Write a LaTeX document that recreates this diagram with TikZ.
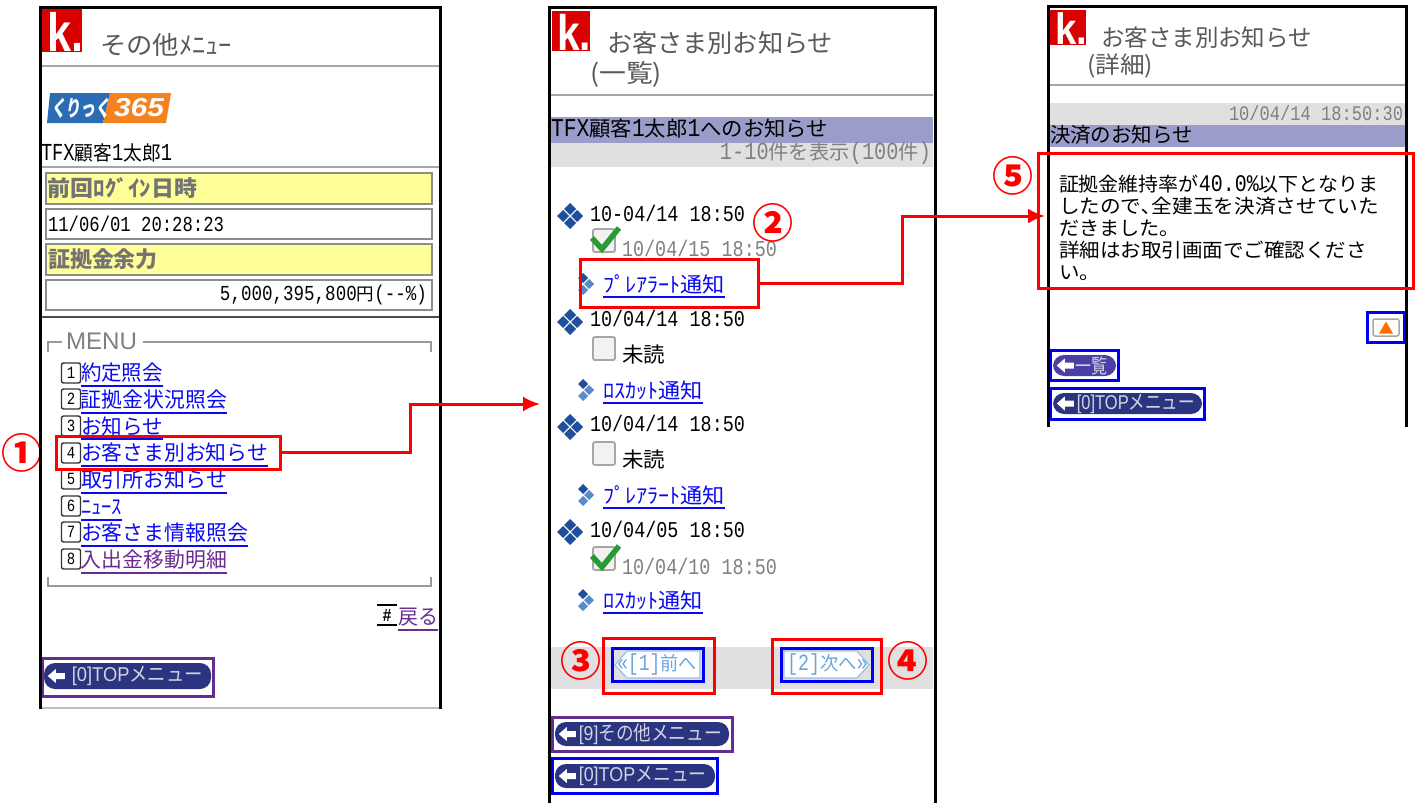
\documentclass[tikz,border=0pt]{standalone}
\usepackage{graphicx}
\usepackage{fontspec}
\usetikzlibrary{arrows.meta,calc,fit}
\setmainfont{Noto Sans CJK JP}
\newfontfamily\mn[Scale=1.22,FakeStretch=0.82]{Liberation Mono}
\newfontfamily\ls{Liberation Sans}
\newfontfamily\lsbi[BoldItalicFont={Liberation Sans Bold Italic}]{Liberation Sans}
\newfontfamily\jpsl[FakeSlant=0.2]{Noto Sans CJK JP}
\newcommand{\fs}[1]{\fontsize{#1pt}{#1pt}\selectfont}
\definecolor{lnkblue}{HTML}{0A0AF0}
\definecolor{lnkpurple}{HTML}{6A2C91}
\definecolor{rd}{HTML}{FF0000}
\definecolor{bbx}{HTML}{0000F0}
\definecolor{pbx}{HTML}{662D91}
\definecolor{navy}{HTML}{2B357F}
\definecolor{lav}{HTML}{9A9CC9}
\definecolor{band}{HTML}{E0E0E0}
\definecolor{dia}{HTML}{1F4E9C}
\definecolor{dial}{HTML}{5B8AC8}
\definecolor{ylw}{HTML}{FFFF99}
\definecolor{pale}{HTML}{6CA6D8}
\definecolor{tickg}{HTML}{2A9A35}
\definecolor{logoblue}{HTML}{2A6DB5}
\definecolor{logoor}{HTML}{F58220}
\definecolor{pillv}{HTML}{4B3FA5}
\tikzset{
  x=1pt,y=-1pt,
  t/.style={anchor=west,inner sep=0pt,outer sep=0pt},
  tr/.style={anchor=east,inner sep=0pt,outer sep=0pt},
  frame/.style={draw=black,line width=3pt},
  rule/.style={draw=black!35,line width=1.5pt},
  redbox/.style={draw=rd,line width=3pt,inner sep=0pt},
  bluebox/.style={draw=bbx,line width=3pt,inner sep=0pt},
  purplebox/.style={draw=pbx,line width=3pt,inner sep=0pt},
  conn/.style={draw=rd,line width=3pt,-{Latex[length=17pt,width=15pt]}},
  numc/.style={text=rd,font=\fs{41}\bfseries,inner sep=0pt},
  yellowcell/.style={fill=ylw,draw=black!45,line width=1.3pt,inner sep=0pt},
  whitecell/.style={fill=white,draw=black!45,line width=1.3pt,inner sep=0pt},
  fsline/.style={draw=black!40,line width=2.5pt},
  keyb/.style={draw=black!80,line width=1.4pt,rounded corners=2pt,minimum width=19pt,minimum height=20pt,inner sep=0pt,font=\mn\fs{14}},
  chk/.style={draw=black!35,fill=black!5,line width=1.8pt,rounded corners=2pt,inner sep=0pt},
  hexa/.style={fill=white,draw=pale!70,line width=1.2pt},
}
% name x1 y1 x2 y2 style [text-free box]
\newcommand{\bx}[6]{\coordinate (#1-a) at (#2,#3);\coordinate (#1-b) at (#4,#5);\node[fit=(#1-a)(#1-b),#6] (#1) {};}
% name x y width style text
\newcommand{\txt}[6]{\node[t,#5] (#1) at (#2,#3) {\resizebox{#4pt}{\height}{#6}};}
\newcommand{\txr}[6]{\node[tr,#5] (#1) at (#2,#3) {\resizebox{#4pt}{\height}{#6}};}
% name x y width colour text
\newcommand{\lnk}[6]{\txt{#1}{#2}{#3}{#4}{text=#5,font=\fs{21}}{#6}\draw[#5,line width=1.4pt] ($(#1.west)+(0,13)$) -- ($(#1.east)+(0,13)$);}
% name x y digit
\newcommand{\keyk}[4]{\node[keyb] (#1) at (#2,#3) {#4};}
% pill: name x1 y1 x2 y2 fill textx textw text
\newcommand{\pill}[9]{\bx{#1}{#2}{#3}{#4}{#5}{fill=#6,rounded corners=11pt,inner sep=0pt}
  \fill[white] ($(#1.west)+(4,0)$) -- ++(8,-7) -- ++(0,4) -- ++(9,0) -- ++(0,6) -- ++(-9,0) -- ++(0,4) -- cycle;
  \node[t,text=white!78!navy,font=\fs{20}] (#1-t) at ($(#1.west)+(#7-#2,0)$) {\resizebox{#8pt}{\height}{#9}};}
% logo: name x1 y1 x2 y2 font size glyph width
\newcommand{\klogo}[7]{\bx{#1}{#2}{#3}{#4}{#5}{fill=red!85!black,inner sep=0pt}
  \node[text=white,font=\ls\bfseries\fs{#6},inner sep=0pt,anchor=south] (#1-k) at ($(#1.south)+(3,-1)$) {\resizebox{#7pt}{\height}{k.}};}
% large diamond icon
\newcommand{\bigdia}[3]{\begin{scope}[shift={(#2,#3)}]
  \foreach \dx/\dy in {0/-7,0/7,-7/0,7/0}{\fill[dia] (\dx-6,\dy) -- (\dx,\dy-6) -- (\dx+6,\dy) -- (\dx,\dy+6) -- cycle;}
  \end{scope}}
\newcommand{\smalldia}[3]{\begin{scope}[shift={(#2,#3)}]
  \foreach \dx/\dy/\c in {-2/-6/dia,-2/6/dial,4/0/dial}{\fill[\c] (\dx-5,\dy) -- (\dx,\dy-5) -- (\dx+5,\dy) -- (\dx,\dy+5) -- cycle;}
  \end{scope}}
\newcommand{\cbox}[3]{\bx{#1}{#2}{#3}{#2+22}{#3+23}{chk}}
\newcommand{\tick}[2]{\draw[draw=tickg,line width=5.5pt] (#1-1,#2-14) -- (#1+9,#2-3) -- (#1+26,#2-24);}
\begin{document}
\begin{tikzpicture}
\path[use as bounding box,fill=white] (0,0) rectangle (1417,803);

%% ---------- panel 1 ----------
\klogo{logoa}{42}{9}{82}{52}{54}{36}
\txt{ta}{100}{45}{132}{text=black!65,font=\fs{25}}{その他ﾒﾆｭｰ}
\draw[rule] (41,66) -- (439,66);
\fill[logoblue] (50,93) -- (110,93) -- (103,123) -- (47,123) -- cycle;
\fill[logoor] (110,93) -- (171,93) -- (166,123) -- (103,123) -- cycle;
\node[t,text=white,font=\jpsl\bfseries\fs{22}] (kur) at (51,108) {\resizebox{60pt}{\height}{くりっく}};
\node[t,text=white,font=\lsbi\bfseries\itshape\fs{26}] (n365) at (114,108) {\resizebox{50pt}{\height}{365}};
\txt{cust}{41}{153}{131}{font=\fs{20}}{{\mn TFX}顧客{\mn 1}太郎{\mn 1}}
\draw[rule] (41,167) -- (439,167);
\bx{ya}{46}{173}{432}{204}{yellowcell}
\bx{wa}{46}{209}{432}{239}{whitecell}
\bx{yb}{46}{244}{432}{275}{yellowcell}
\bx{wb}{46}{280}{432}{310}{whitecell}
\txt{la}{48}{188}{149}{text=black!55,font=\bfseries\fs{22}}{前回ﾛｸﾞｲﾝ日時}
\txt{lb}{48}{224}{176}{font=\mn\fs{17.5}}{11/06/01 20:28:23}
\txt{lc}{48}{259}{110}{text=black!55,font=\bfseries\fs{22}}{証拠金余力}
\txr{ld}{427}{295}{207}{font=\fs{17.5}}{{\mn 5,000,395,800}円{\mn (--\%)}}
\draw[draw=black!70,line width=1.5pt] (41,317) -- (439,317);
\node[t,text=black!50,font=\ls\fs{24}] (menu) at (66,341) {\resizebox{71pt}{\height}{MENU}};
\draw[fsline] (48,352) -- (48,342) -- (62,342);
\draw[fsline] (143,342) -- (431,342) -- (431,352);
\draw[fsline] (48,577) -- (48,586) -- (431,586) -- (431,577);

\keyk{ka}{71}{373}{1}\keyk{kb}{71}{399}{2}\keyk{kc}{71}{426}{3}\keyk{kd}{71}{453}{4}
\keyk{ke}{71}{479}{5}\keyk{kf}{71}{506}{6}\keyk{kg}{71}{532}{7}\keyk{kh}{71}{559}{8}
\lnk{ia}{81}{373}{82}{lnkblue}{約定照会}
\lnk{ib}{81}{400}{146}{lnkblue}{証拠金状況照会}
\begin{scope}
\clip (60,400) rectangle (300,435);
\txt{ic}{81}{426}{82}{text=lnkblue,font=\fs{21}}{お知らせ}
\end{scope}
\draw[lnkblue,line width=1.4pt] ($(ic.west)+(0,13)$) -- ($(ic.east)+(0,13)$);
\lnk{id}{81}{453}{187}{lnkblue}{お客さま別お知らせ}
\lnk{ie}{81}{480}{146}{lnkblue}{取引所お知らせ}
\lnk{if}{81}{507}{41}{lnkblue}{ﾆｭｰｽ}
\lnk{ig}{81}{533}{167}{lnkblue}{お客さま情報照会}
\lnk{ih}{81}{560}{146}{lnkpurple}{入出金移動明細}
\bx{ra}{56}{436}{280}{469}{redbox}
\node[numc] (na) at (22,453) {①};

\node[inner sep=0pt,font=\mn\bfseries\fs{15},minimum width=20pt,minimum height=20pt] (hash) at (387,615) {\#};
\draw[black,line width=1.8pt] (hash.north west) -- (hash.north east);
\draw[black,line width=1.8pt] (hash.south west) -- (hash.south east);
\lnk{back}{398}{617}{40}{lnkpurple}{戻る}

\pill{pa}{44}{663}{211}{689}{navy}{72}{131}{{\ls [0]TOP}メニュー}
\bx{pba}{42}{658}{213}{696}{purplebox}

\draw[draw=black!25,line width=1.2pt] (41,708) -- (439,708);
\draw[frame] (40,709) -- (40,7) -- (440,7) -- (440,709);

%% ---------- panel 2 ----------
\klogo{logob}{552}{11}{590}{51}{50}{34}
\txt{tb}{607}{43}{226}{text=black!65,font=\fs{25}}{お客さま別お知らせ}
\txt{tc}{590}{74}{72}{text=black!65,font=\fs{25}}{(一覧)}
\draw[rule] (551,95) -- (933,95);
\fill[lav] (551,117) rectangle (933,143);
\fill[band] (551,143) rectangle (933,167);
\txt{te}{551}{129}{277}{font=\fs{21}}{{\mn TFX}顧客{\mn 1}太郎{\mn 1}へのお知らせ}
\txr{tf}{931}{153}{211}{text=black!50,font=\fs{20}}{{\mn 1-10}件を表示{\mn (100}件{\mn )}}

\bigdia{da}{570}{216}
\bigdia{db}{570}{322}
\bigdia{dc}{570}{427}
\bigdia{dd}{570}{532}
\txt{d1}{590}{213}{155}{font=\mn\fs{18.5}}{10-04/14 18:50}
\txt{d2}{590}{318}{155}{font=\mn\fs{18.5}}{10/04/14 18:50}
\txt{d3}{590}{423}{155}{font=\mn\fs{18.5}}{10/04/14 18:50}
\txt{d4}{590}{529}{155}{font=\mn\fs{18.5}}{10/04/05 18:50}
\cbox{ca}{593}{229}
\cbox{cb}{593}{337}
\cbox{cc}{593}{442}
\cbox{cd}{593}{547}
\tick{593}{252}
\tick{593}{570}
\txt{s1}{622}{248}{155}{text=black!50,font=\mn\fs{18.5}}{10/04/15 18:50}
\txt{s2}{622}{355}{43}{font=\fs{21}}{未読}
\txt{s3}{622}{460}{43}{font=\fs{21}}{未読}
\txt{s4}{622}{566}{155}{text=black!50,font=\mn\fs{18.5}}{10/04/10 18:50}
\smalldia{sa}{585}{284}
\smalldia{sb}{585}{390}
\smalldia{sc}{585}{495}
\smalldia{sd}{585}{600}
\lnk{lka}{603}{284}{122}{lnkblue}{ﾌﾟﾚｱﾗｰﾄ通知}
\lnk{lkb}{603}{390}{100}{lnkblue}{ﾛｽｶｯﾄ通知}
\lnk{lkc}{603}{495}{122}{lnkblue}{ﾌﾟﾚｱﾗｰﾄ通知}
\lnk{lkd}{603}{600}{100}{lnkblue}{ﾛｽｶｯﾄ通知}
\bx{rb}{580}{259}{758}{307}{redbox}
\node[numc] (nb) at (773,223) {②};

\fill[band] (551,647) rectangle (933,689);
\filldraw[hexa] (615,665) -- (627,651) -- (700,651) -- (700,678) -- (627,678) -- cycle;
\filldraw[hexa] (869,665) -- (857,651) -- (784,651) -- (784,678) -- (857,678) -- cycle;
\txt{btp}{617}{665}{80}{text=pale,font=\fs{19}}{{\mn «[1]}前へ}
\txt{btn}{787}{665}{81}{text=pale,font=\fs{19}}{{\mn [2]}次へ{\mn »}}
\bx{bc}{612}{648}{703}{681}{bluebox}
\bx{bd}{781}{648}{872}{681}{bluebox}
\bx{rc}{603}{638}{714}{693}{redbox}
\bx{rd}{772}{639}{881}{693}{redbox}
\node[numc] (nc) at (581,661) {③};
\node[numc] (nd) at (908,661) {④};

\pill{pb}{555}{722}{729}{746}{navy}{579}{143}{{\ls [9]}その他メニュー}
\bx{pbb}{552}{717}{732}{751}{purplebox}
\pill{pc}{555}{764}{715}{788}{navy}{579}{128}{{\ls [0]TOP}メニュー}
\bx{pbc}{552}{758}{717}{793}{bluebox}

\draw[frame] (549,803) -- (549,7) -- (935,7) -- (935,803);

%% ---------- panel 3 ----------
\klogo{logoc}{1050}{10}{1086}{45}{44}{32}
\txt{th}{1101}{38}{211}{text=black!65,font=\fs{23.5}}{お客さま別お知らせ}
\txt{ti}{1087}{66}{66}{text=black!65,font=\fs{23.5}}{(詳細)}
\draw[rule] (1050,85) -- (1405,85);
\fill[band] (1050,103) rectangle (1405,125);
\fill[lav] (1050,125) rectangle (1405,147);
\txr{tj}{1403}{113}{174}{text=black!50,font=\mn\fs{17}}{10/04/14 18:50:30}
\txt{tk}{1050}{135}{143}{font=\fs{20.5}}{決済のお知らせ}
\txt{m1}{1059}{184}{319}{font=\fs{19.5}}{証拠金維持率が{\mn 40.0\%}以下となりま}
\txt{m2}{1059}{206}{320}{font=\fs{19.5}}{したので､全建玉を決済させていた}
\txt{m3}{1059}{228}{121}{font=\fs{19.5}}{だきました。}
\txt{m4}{1059}{250}{308}{font=\fs{19.5}}{詳細はお取引画面でご確認くださ}
\txt{m5}{1059}{273}{41}{font=\fs{19.5}}{い。}

\bx{up}{1373}{319}{1399}{336}{draw=black!35,fill=white,line width=1.5pt,rounded corners=2pt,inner sep=0pt}
\fill[orange!85!red] ($(up.center)+(-7,6)$) -- ($(up.center)+(0,-6)$) -- ($(up.center)+(7,6)$) -- cycle;
\bx{bup}{1367}{312}{1404}{342}{bluebox}

\pill{pd}{1053}{355}{1116}{376}{pillv}{1076}{32}{一覧}
\bx{bpd}{1050}{350}{1118}{380}{bluebox}
\pill{pe}{1053}{393}{1202}{414}{navy}{1077}{118}{{\ls [0]TOP}メニュー}
\bx{bpe}{1050}{388}{1204}{419}{bluebox}

\draw[frame] (1048,427) -- (1048,6) -- (1406,6) -- (1406,427);
\bx{re}{1038}{153}{1413}{288}{redbox}
\node[numc] (ne) at (1013,176) {⑤};

%% ---------- connectors ----------
\coordinate (ca1) at (410,404);
\coordinate (ca2) at (540,404);
\draw[conn] (ra.east) -| (ca1) -- (ca2);
\coordinate (cb1) at (902,216);
\coordinate (cb2) at (1045,216);
\draw[conn] (rb.east) -| (cb1) -- (cb2);
\end{tikzpicture}
\end{document}
